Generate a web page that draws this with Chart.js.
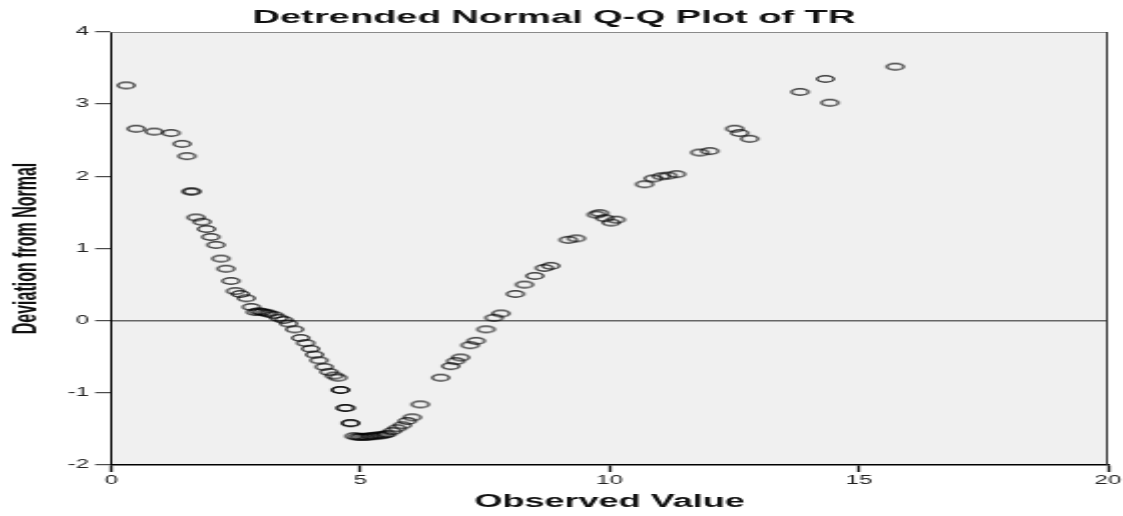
<!DOCTYPE html>
<html>
<head>
<meta charset="utf-8">
<script src="https://cdn.jsdelivr.net/npm/chart.js@4.4.1/dist/chart.umd.min.js"></script>
<style>
  html, body { margin: 0; padding: 0; background: #fff; }
  body { width: 1123px; height: 516px; overflow: hidden; position: relative; }
  /* the source image is stretched 2x horizontally, so the whole chart is too */
  #wrap { position: absolute; left: 0; top: 0; width: 561.5px; height: 516px; transform: scaleX(2); transform-origin: 0 0; }
</style>
</head>
<body>
<div id="wrap"><canvas id="qq"></canvas></div>
<script>
const observed = [
  0.30, 0.50, 0.86, 1.20, 1.42, 1.52, 1.61, 1.61, 1.70, 1.82,
  1.91, 2.00, 2.10, 2.20, 2.30, 2.40, 2.49, 2.59, 2.71, 2.81,
  2.89, 2.96, 3.03, 3.10, 3.16, 3.26, 3.36, 3.46, 3.56, 3.68,
  3.80, 3.90, 4.00, 4.08, 4.17, 4.27, 4.37, 4.47, 4.55, 4.60,
  4.60, 4.70, 4.70, 4.80, 4.80, 4.87, 4.94, 5.00, 5.07, 5.14,
  5.20, 5.27, 5.34, 5.41, 5.48, 5.54, 5.64, 5.74, 5.84, 5.94,
  6.04, 6.20, 6.61, 6.81, 6.91, 7.01, 7.20, 7.32, 7.52, 7.68,
  7.82, 8.11, 8.29, 8.50, 8.69, 8.82, 9.17, 9.33, 9.73, 9.80,
  9.90, 10.03, 10.13, 10.70, 10.87, 11.04, 11.17, 11.34, 11.81, 12.01,
  12.51, 12.61, 12.81, 13.82, 14.33, 14.42, 15.73
];
const deviation = [
  3.26, 2.66, 2.62, 2.60, 2.45, 2.28, 1.79, 1.79, 1.43, 1.37,
  1.27, 1.16, 1.05, 0.86, 0.72, 0.55, 0.41, 0.37, 0.31, 0.19,
  0.12, 0.13, 0.12, 0.11, 0.10, 0.08, 0.04, 0.01, -0.04, -0.12,
  -0.24, -0.31, -0.39, -0.47, -0.55, -0.64, -0.71, -0.76, -0.79, -0.96,
  -0.96, -1.21, -1.21, -1.42, -1.42, -1.60, -1.61, -1.61, -1.61, -1.61,
  -1.60, -1.60, -1.59, -1.59, -1.58, -1.57, -1.53, -1.49, -1.45, -1.39,
  -1.34, -1.16, -0.79, -0.63, -0.56, -0.51, -0.34, -0.28, -0.12, 0.04,
  0.10, 0.37, 0.50, 0.62, 0.73, 0.76, 1.12, 1.14, 1.47, 1.49,
  1.42, 1.36, 1.40, 1.89, 1.97, 2.00, 2.01, 2.03, 2.33, 2.35,
  2.66, 2.60, 2.52, 3.17, 3.35, 3.02, 3.52
];
const xTicks = [0, 5, 10, 15, 20];
const yTicks = [-2, -1, 0, 1, 2, 3, 4];

Chart.defaults.font.family = "'Liberation Sans', Arial, sans-serif";
Chart.defaults.color = '#222';

// small open ellipse used as the marker
function makeMarker() {
  const c = document.createElement('canvas');
  c.width = 12;
  c.height = 10;
  const g = c.getContext('2d');
  g.strokeStyle = 'rgba(0,0,0,0.75)';
  g.lineWidth = 1.4;
  g.beginPath();
  g.ellipse(6, 5, 4.2, 3.2, 0, 0, Math.PI * 2);
  g.stroke();
  return c;
}

const plotFrame = {
  id: 'plotFrame',
  beforeDraw(chart) {
    const { ctx, chartArea: a } = chart;
    ctx.save();
    ctx.fillStyle = '#f0f0f0';
    ctx.fillRect(a.left, a.top, a.width, a.height);
    ctx.restore();
  },
  beforeDatasetsDraw(chart) {
    const { ctx, chartArea: a } = chart;
    ctx.save();
    ctx.strokeStyle = '#8a8a8a';
    ctx.lineWidth = 1;
    ctx.beginPath();
    ctx.moveTo(a.left, a.top + 0.5);
    ctx.lineTo(a.right, a.top + 0.5);
    ctx.stroke();
    ctx.strokeStyle = '#333';
    ctx.beginPath();
    ctx.moveTo(a.right - 0.5, a.top);
    ctx.lineTo(a.right - 0.5, a.bottom);
    ctx.stroke();
    ctx.restore();
  }
};

const marker = makeMarker();

new Chart(document.getElementById('qq'), {
  type: 'scatter',
  data: {
    datasets: [{
      data: observed.map((x, i) => ({ x, y: deviation[i] })),
      pointStyle: marker,
      pointRadius: 4,
      pointHoverRadius: 4
    }]
  },
  options: {
    responsive: true,
    maintainAspectRatio: false,
    animation: false,
    events: [],
    layout: { padding: { left: 0, right: 8.5, top: 0, bottom: 0 } },
    plugins: {
      legend: { display: false },
      tooltip: { enabled: false },
      title: {
        display: true,
        text: 'Detrended Normal Q-Q Plot of TR',
        color: '#111',
        font: { size: 19, weight: 'bold' },
        padding: { top: 6, bottom: 3.2 }
      }
    },
    scales: {
      x: {
        type: 'linear',
        min: 0,
        max: 20,
        afterBuildTicks: (s) => { s.ticks = xTicks.map((v) => ({ value: v })); },
        afterFit: (s) => { s.height = 51; },
        border: { color: '#000', width: 1.5 },
        grid: {
          drawOnChartArea: false,
          tickLength: 7,
          tickColor: '#111',
          tickWidth: 1.4
        },
        ticks: { font: { size: 12 }, color: '#222', padding: 1, maxRotation: 0 },
        title: {
          display: true,
          text: 'Observed Value',
          color: '#111',
          font: { size: 18, weight: 'bold' },
          padding: { top: 0, bottom: 3 }
        }
      },
      y: {
        type: 'linear',
        min: -2,
        max: 4,
        afterBuildTicks: (s) => { s.ticks = yTicks.map((v) => ({ value: v })); },
        afterFit: (s) => { s.width = 55.5; },
        border: { color: '#000', width: 1 },
        grid: {
          color: (c) => (c.tick && c.tick.value === 0 ? '#666' : 'rgba(0,0,0,0)'),
          lineWidth: 1.4,
          tickLength: 8,
          tickColor: '#222',
          tickWidth: 1
        },
        ticks: { font: { size: 12 }, color: '#222', padding: 3 },
        title: {
          display: true,
          text: 'Deviation from Normal',
          color: '#111',
          font: { size: 16, weight: 'bold' },
          padding: { top: 4, bottom: 0 }
        }
      }
    }
  },
  plugins: [plotFrame]
});
</script>
</body>
</html>
